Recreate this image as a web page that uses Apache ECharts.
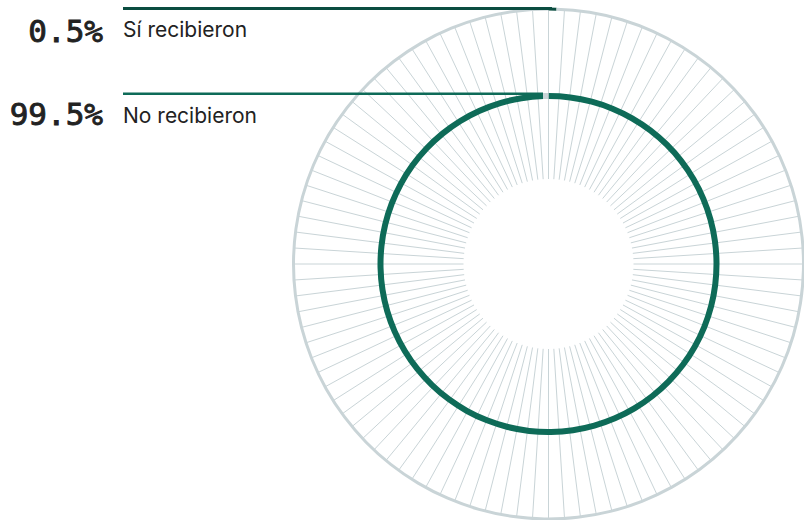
<!DOCTYPE html>
<html>
<head>
<meta charset="utf-8">
<script src="https://cdn.jsdelivr.net/npm/echarts@6/dist/echarts.min.js"></script>
<style>
  html, body { margin: 0; padding: 0; background: #fff; }
  #chart { width: 804px; height: 520px; }
</style>
</head>
<body>
<div id="chart"></div>
<script>
// datos
const categories = ['Sí recibieron', 'No recibieron'];
const shares = [0.5, 99.5];
const shareLabels = ['0.5%', '99.5%'];

const gray = '#c9d4d7';
const darkGreen = '#0b4d40';
const green = '#0e6b58';
const cx = 548.5;
const cy = 264;

const chart = echarts.init(document.getElementById('chart'), null, { renderer: 'svg' });

const option = {
  animation: false,
  polar: {
    center: [cx, cy],
    radius: [85, 255]
  },
  angleAxis: {
    type: 'value',
    min: 0,
    max: 100,
    interval: 1,
    startAngle: 90,
    clockwise: true,
    axisLine: { show: false },
    axisTick: { show: false },
    axisLabel: { show: false },
    splitLine: { show: true, lineStyle: { color: gray, width: 1 } }
  },
  radiusAxis: {
    show: false,
    min: 0,
    max: 1
  },
  series: [
    {
      // anillo verde: No recibieron
      type: 'pie',
      center: [cx, cy],
      radius: [165, 171],
      startAngle: 90,
      clockwise: true,
      silent: true,
      label: { show: false },
      labelLine: { show: false },
      data: [
        { name: categories[1], value: shares[1], itemStyle: { color: green } },
        { name: categories[0], value: shares[0], itemStyle: { color: gray } }
      ]
    },
    {
      // anillo exterior: Sí recibieron
      type: 'pie',
      center: [cx, cy],
      radius: [253.5, 256.5],
      startAngle: 90,
      clockwise: true,
      silent: true,
      label: { show: false },
      labelLine: { show: false },
      data: [
        { name: categories[0], value: shares[0], itemStyle: { color: darkGreen } },
        { name: categories[1], value: shares[1], itemStyle: { color: gray } }
      ]
    }
  ],
  graphic: [
    {
      type: 'line',
      shape: { x1: 123, y1: 8.5, x2: 552, y2: 8.5 },
      style: { stroke: darkGreen, lineWidth: 3 },
      z: 10
    },
    {
      type: 'line',
      shape: { x1: 123, y1: 93.7, x2: 543, y2: 93.7 },
      style: { stroke: green, lineWidth: 2.5 },
      z: 10
    },
    {
      type: 'text',
      style: {
        text: shareLabels[0], x: 103, y: 31,
        align: 'right', verticalAlign: 'middle',
        font: '31px "DejaVu Sans Mono"', fill: '#222',
        stroke: '#222', lineWidth: 0.9
      }
    },
    {
      type: 'text',
      style: {
        text: categories[0], x: 123, y: 29,
        align: 'left', verticalAlign: 'middle',
        font: '21px Inter', fill: '#222'
      }
    },
    {
      type: 'text',
      style: {
        text: shareLabels[1], x: 103, y: 114,
        align: 'right', verticalAlign: 'middle',
        font: '31px "DejaVu Sans Mono"', fill: '#222',
        stroke: '#222', lineWidth: 0.9
      }
    },
    {
      type: 'text',
      style: {
        text: categories[1], x: 123, y: 115,
        align: 'left', verticalAlign: 'middle',
        font: '21px Inter', fill: '#222'
      }
    }
  ]
};

chart.setOption(option);
</script>
</body>
</html>
